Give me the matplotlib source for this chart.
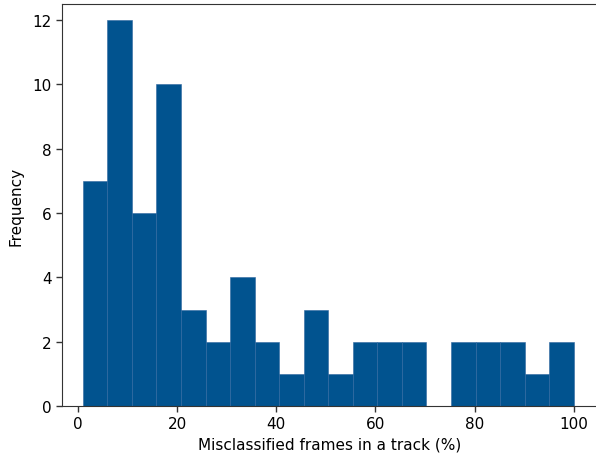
import numpy as np
import matplotlib.pyplot as plt

# histogram counts, 20 equal bins
counts = [7, 12, 6, 10, 3, 2, 4, 2, 1, 3, 1, 2, 2, 2, 0, 2, 2, 2, 1, 2]
x_min, x_max = 1.0, 100.0
xticks = [0, 20, 40, 60, 80, 100]
yticks = [0, 2, 4, 6, 8, 10, 12]

edges = np.linspace(x_min, x_max, len(counts) + 1)

fig = plt.figure(figsize=(5.96, 4.6), dpi=100)
ax = fig.add_axes([62 / 596, 53 / 460, 535 / 596, 402 / 460])

ax.bar(edges[:-1], counts, width=np.diff(edges), align='edge',
       color='#01538f', edgecolor='#2f67a0', linewidth=0.4)

ax.set_xlim(-3.2, 104.7)
ax.set_ylim(0, 12.5)
ax.set_xticks(xticks)
ax.set_yticks(yticks)
for s in ax.spines.values():
    s.set_color('#333333')
ax.tick_params(labelsize=11, width=1, length=4, color='#333333')
ax.set_xlabel('Misclassified frames in a track (%)', fontsize=11)
ax.set_ylabel('Frequency', fontsize=11, labelpad=6)

fig.savefig('out.png', dpi=100, facecolor='white')
